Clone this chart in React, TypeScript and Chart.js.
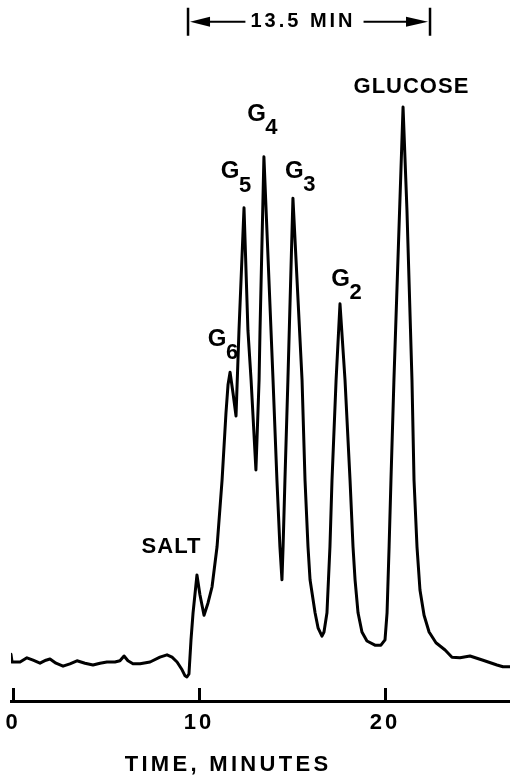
import React, { useEffect, useRef } from 'react';
import { Chart, registerables } from 'chart.js';

Chart.register(...registerables);

// ---- data (time in minutes, detector signal in arbitrary units) ----
const timeMin = [
  -0.11, -0.05, 0.38, 0.75, 1.08, 1.45, 1.77, 1.99, 2.31, 2.69,
  3.06, 3.44, 3.87, 4.3, 4.68, 5.05, 5.48, 5.75, 5.97, 6.18,
  6.45, 6.83, 7.37, 7.9, 8.28, 8.55, 8.82, 9.09, 9.25, 9.35,
  9.46, 9.57, 9.68, 9.89, 10.05, 10.27, 10.48, 10.7, 10.97, 11.24,
  11.45, 11.56, 11.67, 11.83, 11.99, 12.15, 12.42, 12.63, 12.8, 13.06,
  13.23, 13.28, 13.49, 13.98, 14.19, 14.35, 14.46, 14.52, 14.62, 14.78,
  15.05, 15.54, 15.7, 15.86, 15.97, 16.24, 16.4, 16.61, 16.72, 16.88,
  17.04, 17.15, 17.37, 17.58, 17.85, 18.12, 18.28, 18.39, 18.55, 18.76,
  19.03, 19.46, 19.78, 20.0, 20.11, 20.22, 20.32, 20.48, 20.97, 21.18,
  21.45, 21.56, 21.72, 21.88, 22.1, 22.37, 22.74, 23.23, 23.6, 24.03,
  24.57, 25.27, 26.02, 26.34, 26.72,
];
const signal = [
  7.8, 6.5, 6.5, 7.2, 6.8, 6.3, 6.8, 7.0, 6.3, 5.8,
  6.2, 6.7, 6.3, 6.0, 6.3, 6.5, 6.5, 6.7, 7.5, 6.7,
  6.2, 6.2, 6.5, 7.3, 7.7, 7.3, 6.5, 5.2, 4.2, 4.0,
  4.5, 10.2, 14.7, 21.0, 17.7, 14.3, 16.3, 19.0, 25.7, 36.8,
  48.0, 52.7, 54.8, 51.3, 47.5, 61.8, 82.2, 61.8, 53.5, 38.5,
  53.5, 61.8, 90.7, 53.5, 36.8, 25.7, 20.2, 25.7, 36.8, 53.5,
  83.8, 53.5, 36.8, 25.7, 20.2, 14.7, 12.2, 10.8, 11.5, 14.7,
  25.7, 36.8, 53.5, 66.2, 53.5, 36.8, 25.7, 20.2, 14.7, 11.5,
  10.0, 9.3, 9.3, 10.2, 14.7, 25.7, 36.8, 53.5, 99.0, 81.8,
  53.5, 36.8, 25.7, 18.5, 14.3, 11.5, 9.7, 8.5, 7.3, 7.2,
  7.5, 6.8, 6.0, 5.7, 5.7,
];
const xTicks = [0, 10, 20];
const xTitle = 'TIME, MINUTES';
const xTitleT = 11.56;

// peak labels: "G" with subscript degree of polymerisation
const peakSubs = ['6', '5', '4', '3', '2'];
const peakLabelT = [10.97, 11.67, 13.09, 15.13, 17.61];
const peakLabelV = [60.3, 88.25, 97.8, 88.3, 70.3];
const plainLabels = ['SALT', 'GLUCOSE'];
const plainLabelT = [8.52, 21.42];
const plainLabelV = [25.6, 102.4];
const spanText = '13.5 MIN';
const spanStartT = 9.41;
const spanEndT = 22.42;
const spanTextT = 15.59;
const spanV = 113.2;

const ink = '#000';
const family = '"Liberation Sans", Arial, sans-serif';

const annotate = {
  id: 'annotate',
  beforeDraw(chart: any) {
    chart.ctx.letterSpacing = '3px';
  },
  beforeDatasetsDraw(chart: any) {
    chart.ctx.letterSpacing = '0px';
  },
  afterDraw(chart: any) {
    const { ctx, chartArea } = chart;
    const x = chart.scales.x;
    const y = chart.scales.y;
    ctx.save();
    ctx.letterSpacing = '0px';
    ctx.fillStyle = ink;
    ctx.strokeStyle = ink;
    // upward tick marks on the time axis
    ctx.lineWidth = 3;
    ctx.lineCap = 'butt';
    const base = chartArea.bottom;
    xTicks.forEach((t) => {
      const px = Math.round(x.getPixelForValue(t)) + 0.5;
      ctx.beginPath();
      ctx.moveTo(px, base);
      ctx.lineTo(px, base - 13);
      ctx.stroke();
    });

    ctx.textAlign = 'center';
    ctx.textBaseline = 'middle';
    // axis title
    ctx.font = `bold 22px ${family}`;
    ctx.letterSpacing = '3.3px';
    ctx.fillText(xTitle, x.getPixelForValue(xTitleT), base + 64);
    // G-labels with subscripts
    ctx.letterSpacing = '0px';
    peakSubs.forEach((s, i) => {
      const px = x.getPixelForValue(peakLabelT[i]);
      const py = y.getPixelForValue(peakLabelV[i]);
      ctx.font = `bold 24px ${family}`;
      ctx.fillText('G', px, py);
      ctx.font = `bold 22px ${family}`;
      ctx.fillText(s, px + 15, py + 14);
    });
    // plain labels
    plainLabels.forEach((s, i) => {
      const px = x.getPixelForValue(plainLabelT[i]);
      const py = y.getPixelForValue(plainLabelV[i]);
      ctx.font = `bold 22px ${family}`;
      ctx.letterSpacing = '1px';
      ctx.fillText(s, px, py);
    });
    // 13.5 MIN dimension marker
    ctx.letterSpacing = '3px';
    ctx.font = `bold 20px ${family}`;
    const sx0 = x.getPixelForValue(spanStartT);
    const sx1 = x.getPixelForValue(spanEndT);
    const tx = x.getPixelForValue(spanTextT);
    const sy = y.getPixelForValue(spanV);
    ctx.fillText(spanText, tx, sy);
    const tw = ctx.measureText(spanText).width;
    ctx.lineWidth = 2.5;
    ctx.beginPath();
    ctx.moveTo(sx0, sy - 14);
    ctx.lineTo(sx0, sy + 14);
    ctx.moveTo(sx1, sy - 14);
    ctx.lineTo(sx1, sy + 14);
    ctx.stroke();
    ctx.lineWidth = 2;
    ctx.beginPath();
    ctx.moveTo(sx0 + 20, sy);
    ctx.lineTo(tx - tw / 2 - 5, sy);
    ctx.moveTo(tx + tw / 2 + 8, sy);
    ctx.lineTo(sx1 - 20, sy);
    ctx.stroke();
    // arrowheads
    ctx.beginPath();
    ctx.moveTo(sx0 + 2, sy);
    ctx.lineTo(sx0 + 22, sy - 5);
    ctx.lineTo(sx0 + 22, sy + 5);
    ctx.closePath();
    ctx.moveTo(sx1 - 2, sy);
    ctx.lineTo(sx1 - 24, sy - 5);
    ctx.lineTo(sx1 - 24, sy + 5);
    ctx.closePath();
    ctx.fill();
    ctx.restore();
  },
};

export default function App() {
  const ref = useRef<HTMLCanvasElement>(null);
  useEffect(() => {
    const chart = new Chart(ref.current as HTMLCanvasElement, {
      type: 'line',
      data: {
        datasets: [
          {
            data: timeMin.map((t, i) => ({ x: t, y: signal[i] })),
            borderColor: ink,
            borderWidth: 3,
            pointRadius: 0,
            tension: 0,
            borderJoinStyle: 'round',
            borderCapStyle: 'round',
            fill: false,
          },
        ],
      },
      options: {
        responsive: false,
        animation: false,
        devicePixelRatio: 1,
        layout: { padding: { left: 11, right: 0, top: 41, bottom: 36 } },
        plugins: { legend: { display: false }, tooltip: { enabled: false } },
        scales: {
          x: {
            type: 'linear',
            min: -0.1075,
            max: 26.72,
            afterBuildTicks: (s: any) => {
              s.ticks = xTicks.map((v) => ({ value: v }));
            },
            grid: { display: false, drawTicks: false },
            border: { display: true, color: ink, width: 3 },
            ticks: {
              padding: 0,
              color: ink,
              maxRotation: 0,
              font: { family, size: 22, weight: 'bold', lineHeight: 2 },
            },
            title: { display: false },
          },
          y: { display: false, min: 0, max: 110 },
        },
      },
      plugins: [annotate],
    } as any);
    return () => chart.destroy();
  }, []);
  return (
    <div style={{ position: 'fixed', left: 0, top: 0, width: 510, height: 781, background: '#fff' }}>
      <canvas ref={ref} width={510} height={781} style={{ display: 'block' }} />
    </div>
  );
}
